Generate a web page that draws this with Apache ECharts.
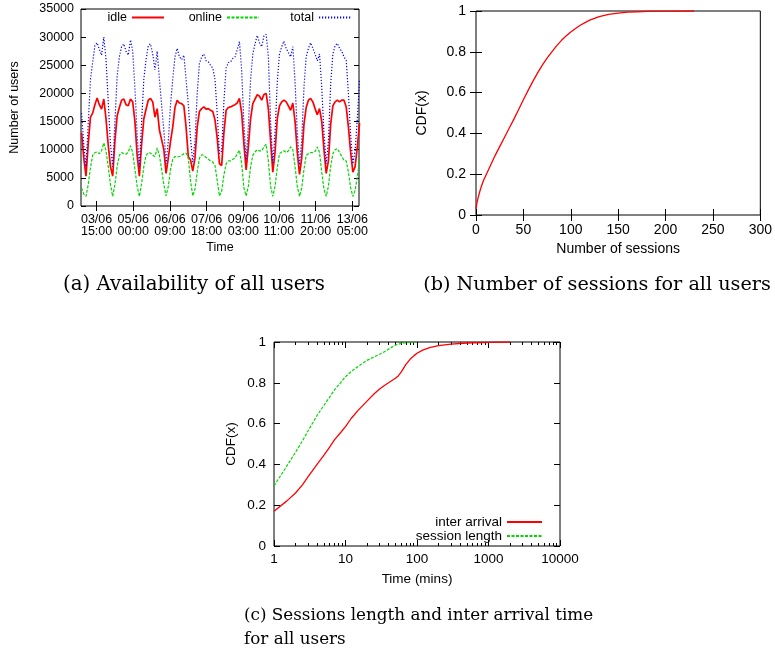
<!DOCTYPE html>
<html><head><meta charset="utf-8">
<script src="https://cdn.jsdelivr.net/npm/echarts@6/dist/echarts.min.js"></script>
<style>html,body{margin:0;padding:0;background:#fff}#c{width:775px;height:651px}</style>
</head><body><div id="c"></div>
<script>
// ---------- Panel (a): availability of all users ----------
const timeTickHours = [15, 48, 81, 114, 147, 179, 212, 245];
const timeTickLabels = ['03/06\n15:00', '05/06\n00:00', '06/06\n09:00', '07/06\n18:00',
  '09/06\n03:00', '10/06\n11:00', '11/06\n20:00', '13/06\n05:00'];
const sampleStartHour = 1.5;
const sampleStepHours = 2;
const idle = [13000, 8500, 5300, 11000, 15800, 16500, 18000, 19200, 18000, 17200, 19000, 15500, 10800, 7000,
  5300, 11500, 16000, 17500, 18800, 19000, 18000, 17800, 19000, 18500, 15000, 9000,
  5300, 11000, 15500, 17200, 18800, 19100, 18500, 15800, 17300, 13500, 11800, 10000,
  5800, 8500, 11500, 14000, 17500, 18800, 18300, 18200, 17800, 14000, 8800, 8200,
  6200, 8500, 14000, 16800, 17300, 17600, 17200, 17300, 17000, 16800, 15300, 12000,
  7500, 7200, 13000, 17000, 17500, 17600, 17800, 18000, 18300, 19100, 16500, 11000,
  6400, 10500, 15500, 18200, 19000, 19800, 19500, 18800, 19800, 20000, 17200, 11500,
  6000, 9500, 15500, 17800, 18500, 18800, 18500, 17800, 17000, 18300, 15000, 9500,
  5600, 8500, 14500, 17500, 18800, 19100, 18500, 17300, 16200, 17300, 15000, 10000,
  5800, 8000, 14500, 17800, 18500, 18800, 18500, 18800, 18800, 17600, 14000, 9500,
  6000, 7000, 10500, 14700];
const online = [3200, 2100, 1700, 3800, 6800, 9000, 9500, 9600, 9300, 9800, 11200, 9800, 7000, 3800,
  1700, 3800, 7000, 9000, 9500, 9300, 9200, 9600, 10700, 9500, 6500, 3500,
  1700, 4000, 7000, 9000, 9500, 9400, 9000, 8800, 10300, 9000, 6500, 3800,
  1800, 3500, 6500, 8300, 8800, 8700, 8800, 9000, 9300, 9400, 8500, 4500,
  1800, 3000, 6000, 8500, 9100, 9000, 8600, 8300, 8000, 7800, 7200, 4500,
  1800, 2600, 5500, 7500, 8000, 8000, 8300, 8500, 9300, 9900, 7500, 3200,
  1800, 3500, 7000, 9000, 9600, 10000, 9800, 9800, 10500, 11000, 8000, 3500,
  1700, 3500, 6800, 9300, 9600, 9800, 9500, 9800, 10500, 10000, 7000, 3500,
  1700, 3200, 6500, 9000, 9300, 9500, 9500, 9700, 10500, 9500, 6000, 3000,
  1700, 3500, 7000, 9300, 10000, 10200, 9500, 8800, 8100, 8000, 6000, 3200,
  1700, 2800, 5200, 8100];
const total = [16500, 10800, 7000, 14500, 22500, 25500, 28500, 29000, 27800, 26800, 30000, 26000, 18500, 11000,
  7000, 15000, 23000, 26500, 28300, 28800, 27500, 26800, 29500, 27500, 21000, 12500,
  7000, 15000, 22500, 26000, 28500, 28800, 27000, 24200, 27500, 22500, 18000, 13500,
  7500, 11500, 18000, 22500, 26500, 28000, 26500, 26000, 26800, 22500, 18000, 12000,
  7800, 11500, 20000, 25300, 26500, 27000, 25800, 25600, 25000, 24500, 22500, 16500,
  9300, 9800, 18500, 24500, 25500, 25600, 26200, 26500, 27800, 29200, 24000, 14500,
  8200, 14000, 22500, 27000, 28800, 30300, 29000, 28300, 30200, 30500, 26500, 15000,
  7700, 13000, 22000, 27000, 28300, 29300, 28000, 27300, 26500, 28300, 22000, 13000,
  7300, 11700, 21000, 26500, 28000, 29000, 28000, 27000, 25800, 27000, 21000, 13000,
  7500, 11500, 21500, 27000, 28500, 28900, 28000, 27500, 26500, 25900, 20000, 12500,
  7500, 9800, 15500, 22500];

// ---------- Panel (b): number of sessions CDF ----------
const sessionsX = [0, 1, 2, 4, 6, 8, 10, 15, 20, 25, 30, 35, 40, 45, 50, 55, 60, 65, 70, 75, 80, 85, 90, 95, 100,
  105, 110, 115, 120, 125, 130, 140, 150, 160, 170, 180, 200, 230];
const sessionsCdf = [0.03, 0.06, 0.08, 0.115, 0.145, 0.17, 0.19, 0.24, 0.29, 0.335, 0.38, 0.425, 0.47, 0.517, 0.565,
  0.611, 0.655, 0.697, 0.735, 0.769, 0.80, 0.829, 0.855, 0.877, 0.897, 0.914, 0.93, 0.943, 0.955, 0.964, 0.972,
  0.983, 0.99, 0.994, 0.996, 0.998, 0.999, 1.0];

// ---------- Panel (c): session length and inter arrival CDF ----------
const interArrivalMins = [1, 1.5, 2, 2.5, 3, 4, 5, 6, 7, 8.5, 10, 12, 15, 20, 25, 30, 35, 40, 50, 55, 60, 65, 70,
  80, 90, 100, 120, 150, 200, 300, 500, 1000, 2000];
const interArrivalCdf = [0.17, 0.22, 0.26, 0.30, 0.34, 0.40, 0.445, 0.485, 0.52, 0.555, 0.585, 0.625, 0.665, 0.71,
  0.745, 0.77, 0.787, 0.80, 0.822, 0.835, 0.852, 0.872, 0.89, 0.915, 0.932, 0.945, 0.96, 0.972, 0.982, 0.99,
  0.995, 0.998, 1.0];
const sessionLenMins = [1, 1.5, 2, 2.5, 3, 4, 5, 6, 7, 8.5, 10, 12, 15, 20, 25, 30, 35, 40, 50, 60, 70, 100];
const sessionLenCdf = [0.295, 0.39, 0.46, 0.515, 0.565, 0.64, 0.69, 0.73, 0.765, 0.80, 0.83, 0.855, 0.88, 0.91,
  0.927, 0.94, 0.952, 0.965, 0.985, 0.993, 0.997, 1.0];
const logMajorTicks = [1, 10, 100, 1000, 10000];
const logMinorTicks = [2, 3, 4, 5, 6, 7, 8, 9, 20, 30, 40, 50, 60, 70, 80, 90,
  200, 300, 400, 500, 600, 700, 800, 900, 2000, 3000, 4000, 5000, 6000, 7000, 8000, 9000];

// ---------- build chart ----------
const FONT = 'Liberation Sans';
const RED = '#ff0000', GREEN = '#00d800', BLUE = '#0000ff';
const chart = echarts.init(document.getElementById('c'), null, {renderer: 'canvas'});
const hourAt = i => sampleStartHour + sampleStepHours * i;
const pairs = (xs, ys) => xs.map((x, i) => [x, ys[i]]);

function tick(len, custom) {
  const t = {show: true, inside: true, length: len, lineStyle: {color: '#000', width: 1}};
  if (custom) t.customValues = custom;
  return t;
}
const noLabel = {show: false};
const noLine = {show: false};
const plain = v => String(Math.round(v * 1000) / 1000);

const gridBorder = {show: true, borderColor: '#000', borderWidth: 1, backgroundColor: 'transparent'};
const legendBase = {padding: 0, align: 'right', itemHeight: 10, itemStyle: {opacity: 0, borderWidth: 0}};

const option = {
  animation: false,
  backgroundColor: '#fff',
  textStyle: {fontFamily: FONT, color: '#000'},
  grid: [
    Object.assign({left: 81, top: 9, width: 278, height: 197, containLabel: false}, gridBorder),
    Object.assign({left: 476, top: 11, width: 286, height: 204, containLabel: false}, gridBorder),
    Object.assign({left: 274, top: 342, width: 286, height: 204, containLabel: false}, gridBorder)
  ],
  xAxis: [
    // panel a
    {gridIndex: 0, type: 'value', position: 'bottom', min: 1, max: 251,
      axisLine: noLine, splitLine: {show: false},
      axisTick: tick(5, timeTickHours),
      axisLabel: {customValues: timeTickHours, margin: 7, fontSize: 12.5, lineHeight: 12.5, color: '#000',
        formatter: v => timeTickLabels[timeTickHours.indexOf(v)] || ''},
      name: 'Time', nameLocation: 'middle', nameGap: 35, nameTextStyle: {fontSize: 12.5, color: '#000'}},
    {gridIndex: 0, type: 'value', position: 'top', min: 1, max: 251,
      axisLine: noLine, splitLine: {show: false}, axisTick: tick(5, timeTickHours), axisLabel: noLabel},
    // panel b
    {gridIndex: 1, type: 'value', position: 'bottom', min: 0, max: 300, interval: 50,
      axisLine: noLine, splitLine: {show: false}, axisTick: tick(6),
      axisLabel: {margin: 8, fontSize: 14, color: '#000', formatter: plain},
      name: 'Number of sessions', nameLocation: 'middle', nameGap: 27, nameTextStyle: {fontSize: 14, color: '#000'}},
    {gridIndex: 1, type: 'value', position: 'top', min: 0, max: 300, interval: 50,
      axisLine: noLine, splitLine: {show: false}, axisTick: tick(6), axisLabel: noLabel},
    // panel c
    {gridIndex: 2, type: 'log', logBase: 10, position: 'bottom', min: 1, max: 10000,
      axisLine: noLine, splitLine: {show: false}, axisTick: tick(6, logMajorTicks),
      axisLabel: {customValues: logMajorTicks, margin: 6, fontSize: 13.5, color: '#000',
        formatter: v => String(Math.round(v))},
      name: 'Time (mins)', nameLocation: 'middle', nameGap: 26, nameTextStyle: {fontSize: 13.5, color: '#000'}},
    {gridIndex: 2, type: 'log', logBase: 10, position: 'bottom', min: 1, max: 10000,
      axisLine: noLine, splitLine: {show: false}, axisTick: tick(3, logMinorTicks), axisLabel: noLabel},
    {gridIndex: 2, type: 'log', logBase: 10, position: 'top', min: 1, max: 10000,
      axisLine: noLine, splitLine: {show: false}, axisTick: tick(6, logMajorTicks), axisLabel: noLabel},
    {gridIndex: 2, type: 'log', logBase: 10, position: 'top', min: 1, max: 10000,
      axisLine: noLine, splitLine: {show: false}, axisTick: tick(3, logMinorTicks), axisLabel: noLabel}
  ],
  yAxis: [
    {gridIndex: 0, type: 'value', position: 'left', min: 0, max: 35000, interval: 5000,
      axisLine: noLine, splitLine: {show: false}, axisTick: tick(5),
      axisLabel: {margin: 7, fontSize: 12.5, color: '#000', formatter: plain},
      name: 'Number of users', nameLocation: 'middle', nameGap: 60, nameTextStyle: {fontSize: 12.5, color: '#000'}},
    {gridIndex: 0, type: 'value', position: 'right', min: 0, max: 35000, interval: 5000,
      axisLine: noLine, splitLine: {show: false}, axisTick: tick(5), axisLabel: noLabel},
    {gridIndex: 1, type: 'value', position: 'left', min: 0, max: 1, interval: 0.2,
      axisLine: noLine, splitLine: {show: false}, axisTick: tick(6),
      axisLabel: {margin: 10, fontSize: 14, color: '#000', formatter: plain},
      name: 'CDF(x)', nameLocation: 'middle', nameGap: 47, nameTextStyle: {fontSize: 14, color: '#000'}},
    {gridIndex: 1, type: 'value', position: 'right', min: 0, max: 1, interval: 0.2,
      axisLine: noLine, splitLine: {show: false}, axisTick: tick(6), axisLabel: noLabel},
    {gridIndex: 2, type: 'value', position: 'left', min: 0, max: 1, interval: 0.2,
      axisLine: noLine, splitLine: {show: false}, axisTick: tick(6),
      axisLabel: {margin: 8, fontSize: 13.5, color: '#000', formatter: plain},
      name: 'CDF(x)', nameLocation: 'middle', nameGap: 36, nameTextStyle: {fontSize: 13.5, color: '#000'}},
    {gridIndex: 2, type: 'value', position: 'right', min: 0, max: 1, interval: 0.2,
      axisLine: noLine, splitLine: {show: false}, axisTick: tick(6), axisLabel: noLabel}
  ],
  legend: [
    Object.assign({data: ['idle'], right: 610, top: 11, itemWidth: 32, textStyle: {fontSize: 12.5, color: '#000'}}, legendBase),
    Object.assign({data: ['online'], right: 515, top: 11, itemWidth: 32, textStyle: {fontSize: 12.5, color: '#000'}}, legendBase),
    Object.assign({data: ['total'], right: 423, top: 11, itemWidth: 32, textStyle: {fontSize: 12.5, color: '#000'}}, legendBase),
    Object.assign({data: ['inter arrival'], right: 232, top: 515, itemWidth: 35, textStyle: {fontSize: 13.5, color: '#000'}}, legendBase),
    Object.assign({data: ['session length'], right: 232, top: 529, itemWidth: 35, textStyle: {fontSize: 13.5, color: '#000'}}, legendBase)
  ],
  series: [
    {name: 'idle', type: 'line', xAxisIndex: 0, yAxisIndex: 0, symbol: 'none',
      data: idle.map((v, i) => [hourAt(i), v]), lineStyle: {color: RED, width: 1.7}, itemStyle: {color: RED}},
    {name: 'online', type: 'line', xAxisIndex: 0, yAxisIndex: 0, symbol: 'none',
      data: online.map((v, i) => [hourAt(i), v]), lineStyle: {color: GREEN, width: 1.2, type: [3, 1.5]}, itemStyle: {color: GREEN}},
    {name: 'total', type: 'line', xAxisIndex: 0, yAxisIndex: 0, symbol: 'none',
      data: total.map((v, i) => [hourAt(i), v]), lineStyle: {color: BLUE, width: 1.2, type: [1.2, 1.8]}, itemStyle: {color: BLUE}},
    {name: 'sessions', type: 'line', xAxisIndex: 2, yAxisIndex: 2, symbol: 'none',
      data: pairs(sessionsX, sessionsCdf), lineStyle: {color: RED, width: 1.3}, itemStyle: {color: RED}},
    {name: 'inter arrival', type: 'line', xAxisIndex: 4, yAxisIndex: 4, symbol: 'none',
      data: pairs(interArrivalMins, interArrivalCdf), lineStyle: {color: RED, width: 1.3}, itemStyle: {color: RED}},
    {name: 'session length', type: 'line', xAxisIndex: 4, yAxisIndex: 4, symbol: 'none',
      data: pairs(sessionLenMins, sessionLenCdf), lineStyle: {color: GREEN, width: 1.2, type: [3, 1.5]}, itemStyle: {color: GREEN}}
  ],
  graphic: [
    {type: 'text', x: 194, y: 285, style: {text: '(a) Availability of all users', font: '19.8px "DejaVu Serif"',
      textAlign: 'center', textVerticalAlign: 'middle', fill: '#000'}},
    {type: 'text', x: 597, y: 285, style: {text: '(b) Number of sessions for all users', font: '19.2px "DejaVu Serif"',
      textAlign: 'center', textVerticalAlign: 'middle', fill: '#000'}},
    {type: 'text', x: 244, y: 616, style: {text: '(c) Sessions length and inter arrival time', font: '16.8px "DejaVu Serif"',
      textAlign: 'left', textVerticalAlign: 'middle', fill: '#000'}},
    {type: 'text', x: 244, y: 640, style: {text: 'for all users', font: '16.8px "DejaVu Serif"',
      textAlign: 'left', textVerticalAlign: 'middle', fill: '#000'}}
  ]
};
chart.setOption(option);
</script>
</body></html>
